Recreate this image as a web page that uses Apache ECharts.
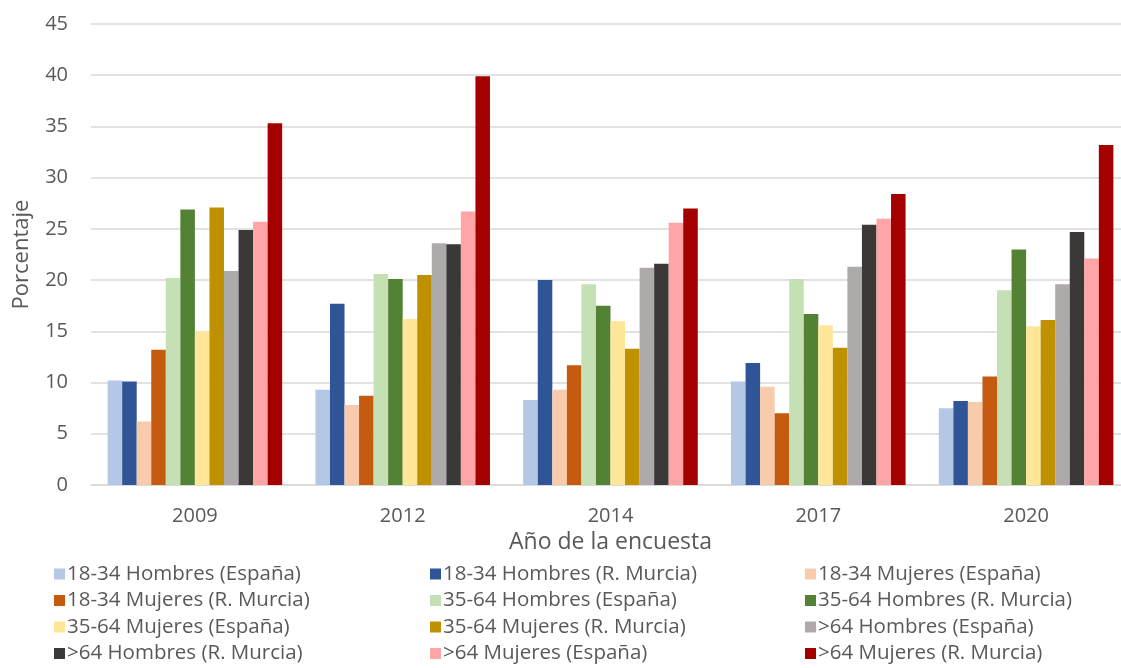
<!DOCTYPE html>
<html>
<head>
<meta charset="utf-8">
<script src="https://cdn.jsdelivr.net/npm/echarts@6/dist/echarts.min.js"></script>
<style>
html,body{margin:0;padding:0;background:#fff;overflow:hidden;}
#chart{width:1130px;height:668px;}
</style>
</head>
<body>
<div id="chart"></div>
<script>
// años de la encuesta
var years = ['2009', '2012', '2014', '2017', '2020'];
var yTicks = [0, 5, 10, 15, 20, 25, 30, 35, 40, 45];

var seriesNames = [
  '18-34 Hombres (España)', '18-34 Hombres (R. Murcia)', '18-34 Mujeres (España)',
  '18-34 Mujeres (R. Murcia)', '35-64 Hombres (España)', '35-64 Hombres (R. Murcia)',
  '35-64 Mujeres (España)', '35-64 Mujeres (R. Murcia)', '>64 Hombres (España)',
  '>64 Hombres (R. Murcia)', '>64 Mujeres (España)', '>64 Mujeres (R. Murcia)'
];
var colors = ['#B4C7E7', '#2F5597', '#F8CBAD', '#C55A11', '#C5E0B4', '#548235',
              '#FFE699', '#BF9000', '#AEAAAA', '#3B3838', '#FFA5A5', '#A50000'];

// porcentaje por serie, en el orden de years
var h1834Esp = [10.2, 9.3, 8.3, 10.1, 7.5];
var h1834Mur = [10.1, 17.7, 20.0, 11.9, 8.2];
var m1834Esp = [6.2, 7.8, 9.3, 9.6, 8.1];
var m1834Mur = [13.2, 8.7, 11.7, 7.0, 10.6];
var h3564Esp = [20.2, 20.6, 19.6, 20.1, 19.0];
var h3564Mur = [26.9, 20.1, 17.5, 16.7, 23.0];
var m3564Esp = [15.0, 16.2, 16.0, 15.6, 15.5];
var m3564Mur = [27.1, 20.5, 13.3, 13.4, 16.1];
var h64Esp = [20.9, 23.6, 21.2, 21.3, 19.6];
var h64Mur = [24.9, 23.5, 21.6, 25.4, 24.7];
var m64Esp = [25.7, 26.7, 25.6, 26.0, 22.1];
var m64Mur = [35.3, 39.9, 27.0, 28.4, 33.2];

var values = [h1834Esp, h1834Mur, m1834Esp, m1834Mur, h3564Esp, h3564Mur,
              m3564Esp, m3564Mur, h64Esp, h64Mur, m64Esp, m64Mur];

var font = '"Open Sans", "Noto Sans", sans-serif';
var txt = '#595959';

var series = [];
for (var i = 0; i < seriesNames.length; i++) {
  series.push({
    name: seriesNames[i],
    type: 'bar',
    data: values[i],
    barGap: '0%',
    barCategoryGap: '16%',
    itemStyle: {color: colors[i]}
  });
}

// leyenda en 3 columnas (orden por filas)
var legends = [];
var colX = [54, 430, 805];
for (var c = 0; c < 3; c++) {
  var names = [];
  for (var k = c; k < seriesNames.length; k += 3) names.push(seriesNames[k]);
  legends.push({
    data: names,
    orient: 'vertical',
    left: colX[c],
    top: 561,
    padding: 0,
    itemWidth: 11,
    itemHeight: 11,
    itemGap: 0.5,
    icon: 'rect',
    textStyle: {fontFamily: font, fontSize: 20.5, color: txt, padding: [0, 0, 0, -3], lineHeight: 26}
  });
}

var chart = echarts.init(document.getElementById('chart'));
chart.setOption({
  animation: false,
  color: colors,
  legend: legends,
  grid: {left: 91, right: 0, top: 24, bottom: 183},
  xAxis: {
    type: 'category',
    data: years,
    name: 'Año de la encuesta',
    nameLocation: 'middle',
    nameGap: 46,
    nameTextStyle: {fontFamily: font, fontSize: 23, color: txt},
    axisLine: {lineStyle: {color: '#D9D9D9', width: 1.5}},
    axisTick: {show: false},
    axisLabel: {fontFamily: font, fontSize: 20, color: txt, margin: 21}
  },
  yAxis: {
    type: 'value',
    min: yTicks[0],
    max: yTicks[yTicks.length - 1],
    interval: 5,
    name: 'Porcentaje',
    nameLocation: 'middle',
    nameGap: 58,
    nameTextStyle: {fontFamily: font, fontSize: 22, color: txt},
    axisLine: {show: false},
    axisTick: {show: false},
    axisLabel: {fontFamily: font, fontSize: 20, color: txt, margin: 23},
    splitLine: {lineStyle: {color: '#D9D9D9', width: 1.5}}
  },
  series: series
});
</script>
</body>
</html>
